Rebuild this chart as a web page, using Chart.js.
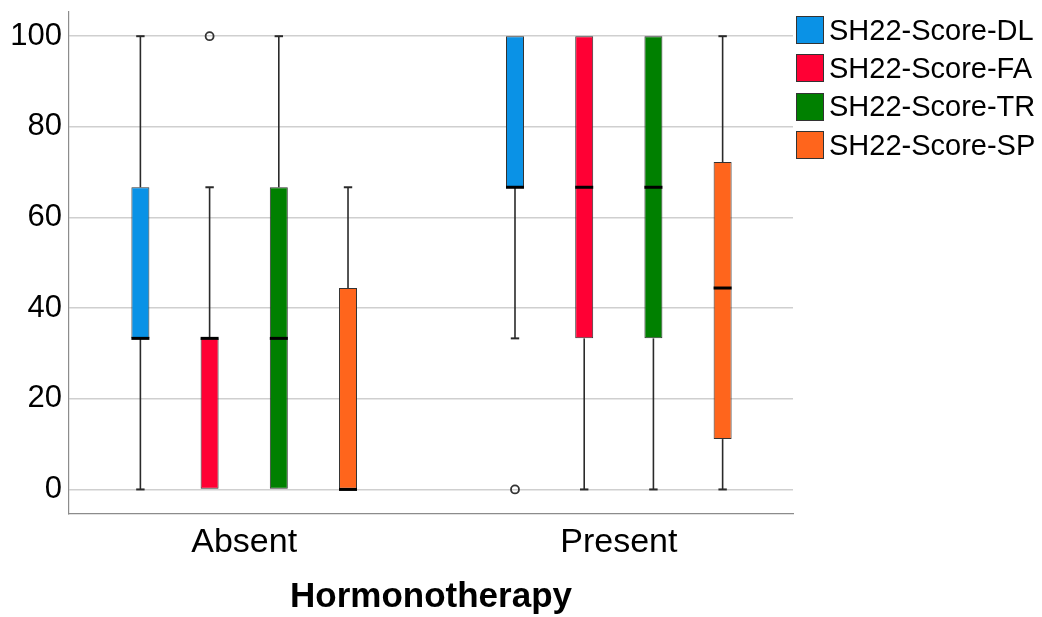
<!DOCTYPE html>
<html lang="en">
<head>
  <meta charset="UTF-8" />
  <title>SH22 scores by hormonotherapy</title>
  <script src="https://cdn.jsdelivr.net/npm/chart.js"></script>
  <style>
    body { margin: 0; background: #fff; }
    .wrap { position: relative; width: 1042px; height: 617px; }
    #legend { position: absolute; left: 796px; top: 11px; font-family: 'Liberation Sans', Arial, sans-serif; font-size: 29px; color: #000; }
    .item { display: flex; align-items: center; height: 38.3px; white-space: nowrap; }
    .swatch { width: 26px; height: 26px; border: 1px solid #333; margin-right: 5px; box-sizing: content-box; }
  </style>
</head>
<body>

  <div class="wrap">
    <canvas id="boxChart"></canvas>
    <div id="legend"></div>
  </div>

  <script>
    const categories = ['Absent', 'Present'];
    const seriesNames = ['SH22-Score-DL', 'SH22-Score-FA', 'SH22-Score-TR', 'SH22-Score-SP'];
    const seriesColors = ['#0a92e6', '#ff0034', '#008000', '#ff651c'];

    // [min, Q1, median, Q3, max] for Absent, Present
    const boxDL = [[0, 33.33, 33.33, 66.67, 100], [33.33, 66.67, 66.67, 100, 100]];
    const boxFA = [[0, 0, 33.33, 33.33, 66.67], [0, 33.33, 66.67, 100, 100]];
    const boxTR = [[0, 0, 33.33, 66.67, 100], [0, 33.33, 66.67, 100, 100]];
    const boxSP = [[0, 0, 0, 44.44, 66.67], [0, 11.11, 44.44, 72.22, 100]];

    // outliers for Absent, Present
    const outDL = [[], [0]];
    const outFA = [[100], []];
    const outTR = [[], []];
    const outSP = [[], []];

    const yTicks = [0, 20, 40, 60, 80, 100];

    const allBoxes = [boxDL, boxFA, boxTR, boxSP];
    const allOutliers = [outDL, outFA, outTR, outSP];

    // legend en HTML
    const legend = document.getElementById('legend');
    seriesNames.forEach((name, i) => {
      const row = document.createElement('div');
      row.className = 'item';
      row.innerHTML = '<span class="swatch" style="background:' + seriesColors[i] + '"></span>' + name;
      legend.appendChild(row);
    });

    // whiskers, medians and outliers, drawn on top of the bars
    const boxExtras = {
      id: 'boxExtras',
      afterDatasetsDraw(chart) {
        const ctx = chart.ctx;
        const y = chart.scales.y;
        ctx.save();
        allBoxes.forEach((boxes, d) => {
          const meta = chart.getDatasetMeta(d);
          meta.data.forEach((bar, i) => {
            const [mn, q1, med, q3, mx] = boxes[i];
            const x = bar.x;
            const half = bar.width / 2;
            ctx.strokeStyle = '#2a2a2a';
            ctx.lineWidth = 1.6;
            const whisker = (from, to) => {
              if (from === to) return;
              ctx.beginPath();
              ctx.moveTo(x, y.getPixelForValue(from));
              ctx.lineTo(x, y.getPixelForValue(to));
              ctx.stroke();
              ctx.lineWidth = 2;
              ctx.beginPath();
              ctx.moveTo(x - 4.2, y.getPixelForValue(to));
              ctx.lineTo(x + 4.2, y.getPixelForValue(to));
              ctx.stroke();
              ctx.lineWidth = 1.6;
            };
            whisker(q3, mx);
            whisker(q1, mn);

            ctx.strokeStyle = '#000';
            ctx.lineWidth = 3;
            ctx.beginPath();
            ctx.moveTo(x - half, y.getPixelForValue(med));
            ctx.lineTo(x + half, y.getPixelForValue(med));
            ctx.stroke();

            ctx.strokeStyle = '#333';
            ctx.lineWidth = 1.8;
            allOutliers[d][i].forEach(v => {
              ctx.beginPath();
              ctx.arc(x, y.getPixelForValue(v), 4, 0, Math.PI * 2);
              ctx.stroke();
            });
          });
        });
        ctx.restore();
      }
    };

    const ctx = document.getElementById('boxChart').getContext('2d');

    const chart = new Chart(ctx, {
      type: 'bar',
      data: {
        datasets: seriesNames.map((name, d) => ({
          label: name,
          data: allBoxes[d].map((b, i) => ({ x: i, y: [b[1], b[3]] })),
          backgroundColor: seriesColors[d],
          borderColor: '#333',
          borderWidth: 1,
          borderSkipped: false,
          categoryPercentage: 0.739,
          barPercentage: 0.26
        }))
      },
      options: {
        responsive: true,
        maintainAspectRatio: false,
        animation: false,
        layout: { padding: { top: 12, right: 249, bottom: 0, left: 0 } },
        scales: {
          x: {
            type: 'linear',
            offset: false,
            min: -0.4677,
            max: 1.465,
            afterBuildTicks: axis => { axis.ticks = categories.map((c, i) => ({ value: i })); },
            afterFit: scale => { scale.height = 103; },
            grid: { drawOnChartArea: false, drawTicks: false },
            border: { display: true, color: '#8c8c8c', width: 1.2 },
            ticks: {
              padding: 8,
              color: '#000',
              font: { family: "'Liberation Sans', Arial", size: 34 },
              callback: v => categories[v]
            },
            title: {
              display: true,
              text: 'Hormonotherapy',
              color: '#000',
              padding: { top: 0, bottom: 0 },
              font: { family: "'Liberation Sans', Arial", size: 35, weight: 'bold', lineHeight: 1.1 }
            }
          },
          y: {
            min: -5.42,
            max: 105.34,
            afterBuildTicks: axis => { axis.ticks = yTicks.map(v => ({ value: v })); },
            afterFit: scale => { scale.width = 69; },
            grid: { color: '#cfcfcf', lineWidth: 1.5, drawTicks: false },
            border: { display: true, color: '#8c8c8c', width: 1.2 },
            ticks: {
              padding: 7,
              color: '#000',
              font: { family: "'Liberation Sans', Arial", size: 31, lineHeight: 0.3 }
            }
          }
        },
        plugins: {
          legend: { display: false },
          tooltip: { enabled: false }
        }
      },
      plugins: [boxExtras]
    });
  </script>

</body>
</html>
